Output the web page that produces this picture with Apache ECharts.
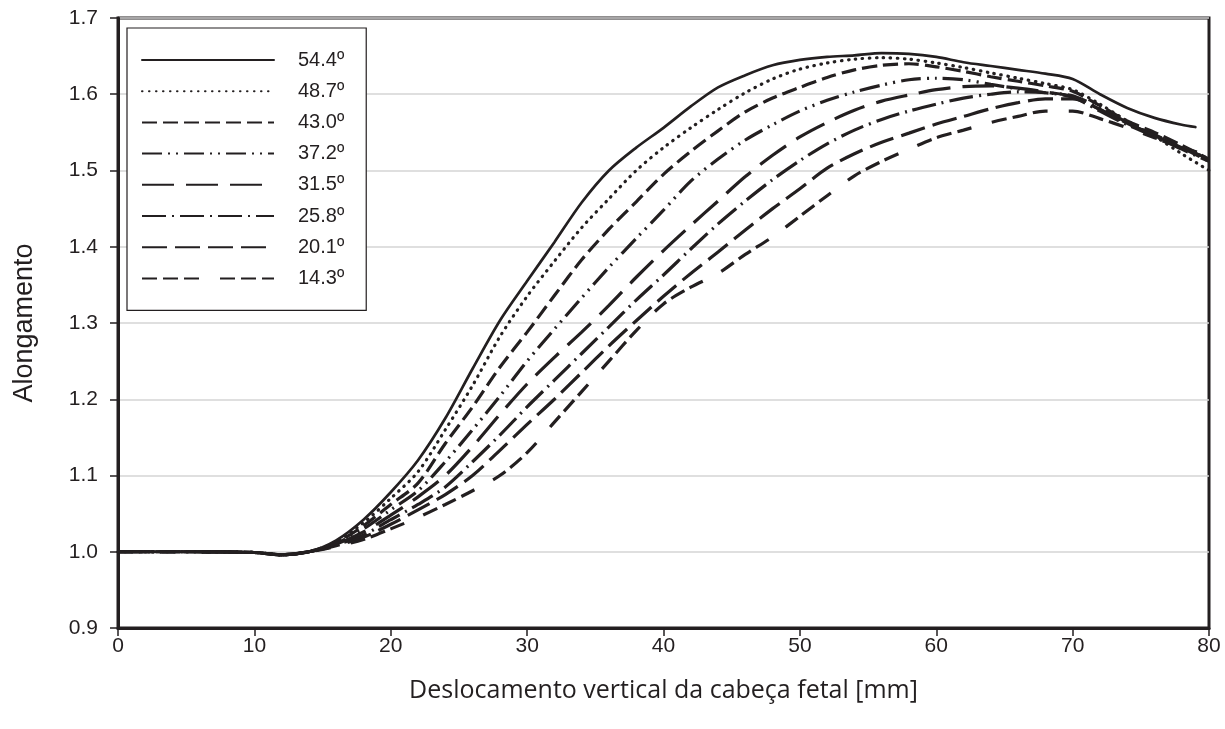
<!DOCTYPE html>
<html>
<head>
<meta charset="utf-8">
<script src="https://cdn.jsdelivr.net/npm/echarts@6/dist/echarts.min.js"></script>
<style>
html,body{margin:0;padding:0;background:#fff;}
#chart{width:1225px;height:729px;}
</style>
</head>
<body>
<div id="chart"></div>
<script>
// x positions (mm)
var xs = [0,5,10,12,14,16,18,20,22,24,26,28,30,32,34,36,38,40,42,44,46,48,50,52,54,56,58,60,62,64,66,68,70,72,74,76,78,80];
var xsSolid = [0,5,10,12,14,16,18,20,22,24,26,28,30,32,34,36,38,40,42,44,46,48,50,52,54,56,58,60,62,64,66,68,70,72,74,76,78,79];

var seriesNames = ['54.4º','48.7º','43.0º','37.2º','31.5º','25.8º','20.1º','14.3º'];

var s544 = [1.000,1.000,0.999,0.996,1.000,1.015,1.042,1.078,1.120,1.175,1.240,1.303,1.355,1.406,1.458,1.500,1.530,1.556,1.584,1.609,1.625,1.638,1.645,1.649,1.651,1.654,1.653,1.649,1.642,1.637,1.632,1.627,1.620,1.600,1.582,1.569,1.560,1.557];
var s487 = [1.000,1.000,0.999,0.996,1.000,1.013,1.038,1.070,1.105,1.160,1.218,1.282,1.335,1.381,1.425,1.463,1.500,1.530,1.556,1.580,1.602,1.620,1.633,1.641,1.646,1.648,1.646,1.641,1.635,1.628,1.621,1.614,1.606,1.587,1.565,1.545,1.522,1.500];
var s430 = [1.000,1.000,0.999,0.996,1.000,1.012,1.034,1.062,1.090,1.142,1.190,1.242,1.288,1.336,1.383,1.423,1.459,1.495,1.525,1.552,1.577,1.595,1.609,1.622,1.632,1.638,1.640,1.636,1.630,1.623,1.617,1.611,1.604,1.585,1.565,1.550,1.533,1.515];
var s372 = [1.000,1.000,0.999,0.996,1.000,1.011,1.030,1.055,1.080,1.118,1.160,1.204,1.250,1.292,1.333,1.373,1.411,1.448,1.486,1.515,1.540,1.560,1.578,1.592,1.603,1.612,1.619,1.621,1.619,1.613,1.607,1.602,1.598,1.582,1.563,1.547,1.530,1.512];
var s315 = [1.000,1.000,0.999,0.996,1.000,1.010,1.026,1.048,1.072,1.100,1.138,1.180,1.220,1.255,1.288,1.323,1.360,1.395,1.428,1.460,1.492,1.520,1.544,1.563,1.579,1.591,1.599,1.606,1.610,1.611,1.608,1.603,1.597,1.580,1.562,1.546,1.530,1.515];
var s258 = [1.000,1.000,0.999,0.996,1.000,1.009,1.022,1.042,1.062,1.085,1.118,1.153,1.190,1.225,1.260,1.295,1.330,1.363,1.397,1.430,1.460,1.488,1.513,1.535,1.553,1.567,1.578,1.587,1.595,1.600,1.603,1.602,1.596,1.578,1.560,1.545,1.528,1.512];
var s201 = [1.000,1.000,0.999,0.996,1.000,1.008,1.019,1.036,1.055,1.075,1.100,1.133,1.167,1.200,1.235,1.270,1.303,1.335,1.365,1.393,1.422,1.450,1.476,1.503,1.522,1.537,1.549,1.561,1.571,1.581,1.589,1.594,1.594,1.580,1.562,1.546,1.530,1.515];
var s143 = [1.000,1.000,0.999,0.996,1.000,1.007,1.016,1.030,1.045,1.062,1.080,1.100,1.130,1.170,1.210,1.250,1.290,1.325,1.347,1.365,1.390,1.413,1.440,1.467,1.493,1.512,1.528,1.543,1.553,1.563,1.571,1.578,1.578,1.568,1.556,1.543,1.530,1.520];

var yTicks = ['0.9','1.0','1.1','1.2','1.3','1.4','1.5','1.6','1.7'];

var allValues = [s544,s487,s430,s372,s315,s258,s201,s143];
var dashes = [
  'solid',
  [0.5, 6.5],
  [15, 6],
  [20, 6, 2, 6, 2, 6],
  [32, 12],
  [24, 6, 2, 6],
  [25, 8],
  [15, 6, 15, 6, 15, 21]
];
var caps = ['round','round','butt','butt','butt','butt','butt','butt'];
var widths = [2.7, 3.2, 3.2, 3.2, 3.2, 3.2, 3.2, 3.2];

function pairs(x, v){ var r=[]; for(var i=0;i<x.length;i++){ r.push([x[i], v[i]]); } return r; }

var series = allValues.map(function(v, i){
  return {
    name: seriesNames[i],
    type: 'line',
    data: pairs(i===0 ? xsSolid : xs, v),
    symbol: 'none',
    smooth: 0.3,
    z: 10 - i,
    lineStyle: { color: '#231f20', width: widths[i], type: dashes[i], cap: caps[i] },
    itemStyle: { color: '#231f20' },
    emphasis: { disabled: true },
    animation: false
  };
});

var chart = echarts.init(document.getElementById('chart'), null, {renderer: 'canvas'});
chart.setOption({
  backgroundColor: '#fff',
  animation: false,
  grid: { left: 118, right: 16, top: 18, bottom: 101, show: true, borderColor: '#231f20', borderWidth: 3, backgroundColor: 'transparent' },
  legend: {
    orient: 'vertical',
    left: 127, top: 28,
    padding: [22, 22, 22, 14],
    itemWidth: 132, itemHeight: 20, itemGap: 11.2,
    itemStyle: { color: 'rgba(0,0,0,0)', borderWidth: 0, borderColor: 'rgba(0,0,0,0)' },
    backgroundColor: '#fff',
    borderColor: '#231f20', borderWidth: 1.2,
    textStyle: { fontFamily: 'Liberation Sans, Arial, sans-serif', fontSize: 20, lineHeight: 20, color: '#231f20', padding: [0,0,0,19] },
    selectedMode: false,
    data: seriesNames
  },
  xAxis: {
    type: 'value', min: 0, max: 80, interval: 10,
    name: 'Deslocamento vertical da cabeça fetal [mm]',
    nameLocation: 'middle', nameGap: 50,
    nameTextStyle: { fontFamily: 'Open Sans, Noto Sans, sans-serif', fontSize: 25, color: '#231f20' },
    axisLine: { show: true, onZero: false, lineStyle: { color: '#231f20', width: 3 } },
    axisTick: { show: true, length: 8, lineStyle: { color: '#231f20', width: 1.5 } },
    axisLabel: { fontFamily: 'Liberation Sans, Arial, sans-serif', fontSize: 21, color: '#231f20', margin: 8 },
    splitLine: { show: false }
  },
  yAxis: {
    type: 'value', min: 0.9, max: 1.7, interval: 0.1,
    name: 'Alongamento',
    nameLocation: 'middle', nameGap: 80,
    nameTextStyle: { fontFamily: 'Liberation Sans, Arial, sans-serif', fontSize: 27, color: '#231f20' },
    axisLine: { show: true, onZero: false, lineStyle: { color: '#231f20', width: 3 } },
    axisTick: { show: true, length: 8, lineStyle: { color: '#231f20', width: 1.5 } },
    axisLabel: { fontFamily: 'Liberation Sans, Arial, sans-serif', fontSize: 21, color: '#231f20', margin: 20,
      formatter: function(v){ var idx = Math.round((v - 0.9) * 10); return yTicks[idx] !== undefined ? yTicks[idx] : v.toFixed(1); } },
    splitLine: { show: true, lineStyle: { color: '#d4d4d4', width: 1.5 } }
  },
  series: series
});
</script>
</body>
</html>
